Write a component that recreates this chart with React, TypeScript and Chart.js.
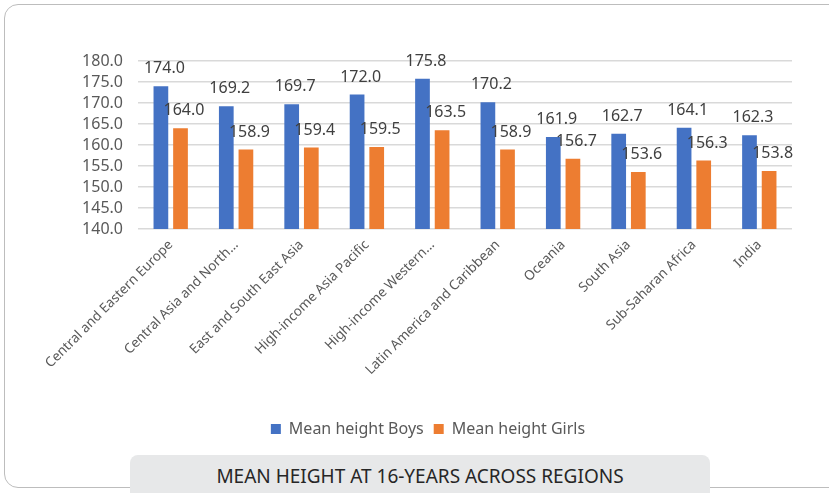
import React, { useEffect, useRef } from "react";
import { Chart, registerables } from "chart.js";

Chart.register(...registerables);

const regions = [
  "Central and Eastern Europe",
  "Central Asia and North...",
  "East and South East Asia",
  "High-income Asia Pacific",
  "High-income Western...",
  "Latin America and Caribbean",
  "Oceania",
  "South Asia",
  "Sub-Saharan Africa",
  "India",
];

const boysHeight = [174.0, 169.2, 169.7, 172.0, 175.8, 170.2, 161.9, 162.7, 164.1, 162.3];
const girlsHeight = [164.0, 158.9, 159.4, 159.5, 163.5, 158.9, 156.7, 153.6, 156.3, 153.8];

const seriesNames = ["Mean height Boys", "Mean height Girls"];
const titleText = "MEAN HEIGHT AT 16-YEARS ACROSS REGIONS";

const FONT = "'Noto Sans', sans-serif";

// Writes each bar's value just above its top
const valueLabels = {
  id: "valueLabels",
  afterDatasetsDraw(chart: any) {
    const ctx = chart.ctx;
    ctx.save();
    ctx.font = `16px ${FONT}`;
    ctx.fillStyle = "#404040";
    ctx.textAlign = "center";
    ctx.textBaseline = "middle";
    chart.data.datasets.forEach((ds: any, di: number) => {
      const meta = chart.getDatasetMeta(di);
      meta.data.forEach((el: any, i: number) => {
        ctx.fillText(Number(ds.data[i]).toFixed(1), el.x + 3.5, el.y - 17.5);
      });
    });
    ctx.restore();
  },
};

function HeightChart() {
  const ref = useRef<HTMLCanvasElement | null>(null);

  useEffect(() => {
    if (!ref.current) return;
    const chart = new Chart(ref.current, {
      type: "bar",
      data: {
        labels: regions,
        datasets: [
          {
            label: seriesNames[0],
            data: boysHeight,
            backgroundColor: "#4472C4",
            categoryPercentage: 0.6,
            barPercentage: 0.75,
          },
          {
            label: seriesNames[1],
            data: girlsHeight,
            backgroundColor: "#ED7D31",
            categoryPercentage: 0.6,
            barPercentage: 0.75,
          },
        ],
      },
      options: {
        animation: false,
        responsive: false,
        maintainAspectRatio: false,
        layout: { padding: { top: 61, right: 37, left: 64, bottom: 0 } },
        plugins: {
          legend: {
            position: "bottom",
            labels: {
              boxWidth: 10,
              boxHeight: 10,
              padding: 10,
              color: "#595959",
              font: { family: FONT, size: 16 },
            },
          },
          tooltip: { enabled: false },
          title: { display: false },
        },
        scales: {
          x: {
            grid: { display: false, drawTicks: false },
            border: { display: false },
            ticks: {
              color: "#595959",
              font: { family: FONT, size: 13.5 },
              minRotation: 45,
              maxRotation: 45,
              autoSkip: false,
              padding: 8,
            },
            afterFit(scale: any) {
              scale.height = 182;
            },
          },
          y: {
            min: 140,
            max: 180,
            grid: { color: "#D9D9D9", lineWidth: 1.5, drawTicks: false },
            border: { display: false },
            ticks: {
              stepSize: 5,
              autoSkip: false,
              padding: 15,
              color: "#595959",
              font: { family: FONT, size: 16 },
              callback: (v: any) => Number(v).toFixed(1),
            },
            afterFit(scale: any) {
              scale.width = 74;
            },
          },
        },
      },
      plugins: [valueLabels],
    });
    return () => chart.destroy();
  }, []);

  return <canvas ref={ref} width={829} height={447} style={{ position: "absolute", left: 0, top: 0 }} />;
}

export default function App() {
  return (
    <div
      style={{
        position: "fixed",
        left: 0,
        top: 0,
        width: 829,
        height: 493,
        overflow: "hidden",
        background: "#FFFFFF",
        fontFamily: FONT,
      }}
    >
      <div
        style={{
          position: "absolute",
          left: 4,
          top: 4,
          width: 840,
          height: 484,
          border: "1.5px solid #BDBDBD",
          borderRadius: 14,
          boxSizing: "border-box",
        }}
      />
      <HeightChart />
      <div
        style={{
          position: "absolute",
          left: 130,
          top: 455,
          width: 580,
          height: 45,
          background: "#E7E8E9",
          borderRadius: "8px 8px 0 0",
        }}
      >
        <div
          style={{
            position: "absolute",
            left: 0,
            right: 0,
            top: 8,
            textAlign: "center",
            fontSize: 19,
            color: "#262626",
            lineHeight: "26px",
          }}
        >
          {titleText}
        </div>
      </div>
    </div>
  );
}
